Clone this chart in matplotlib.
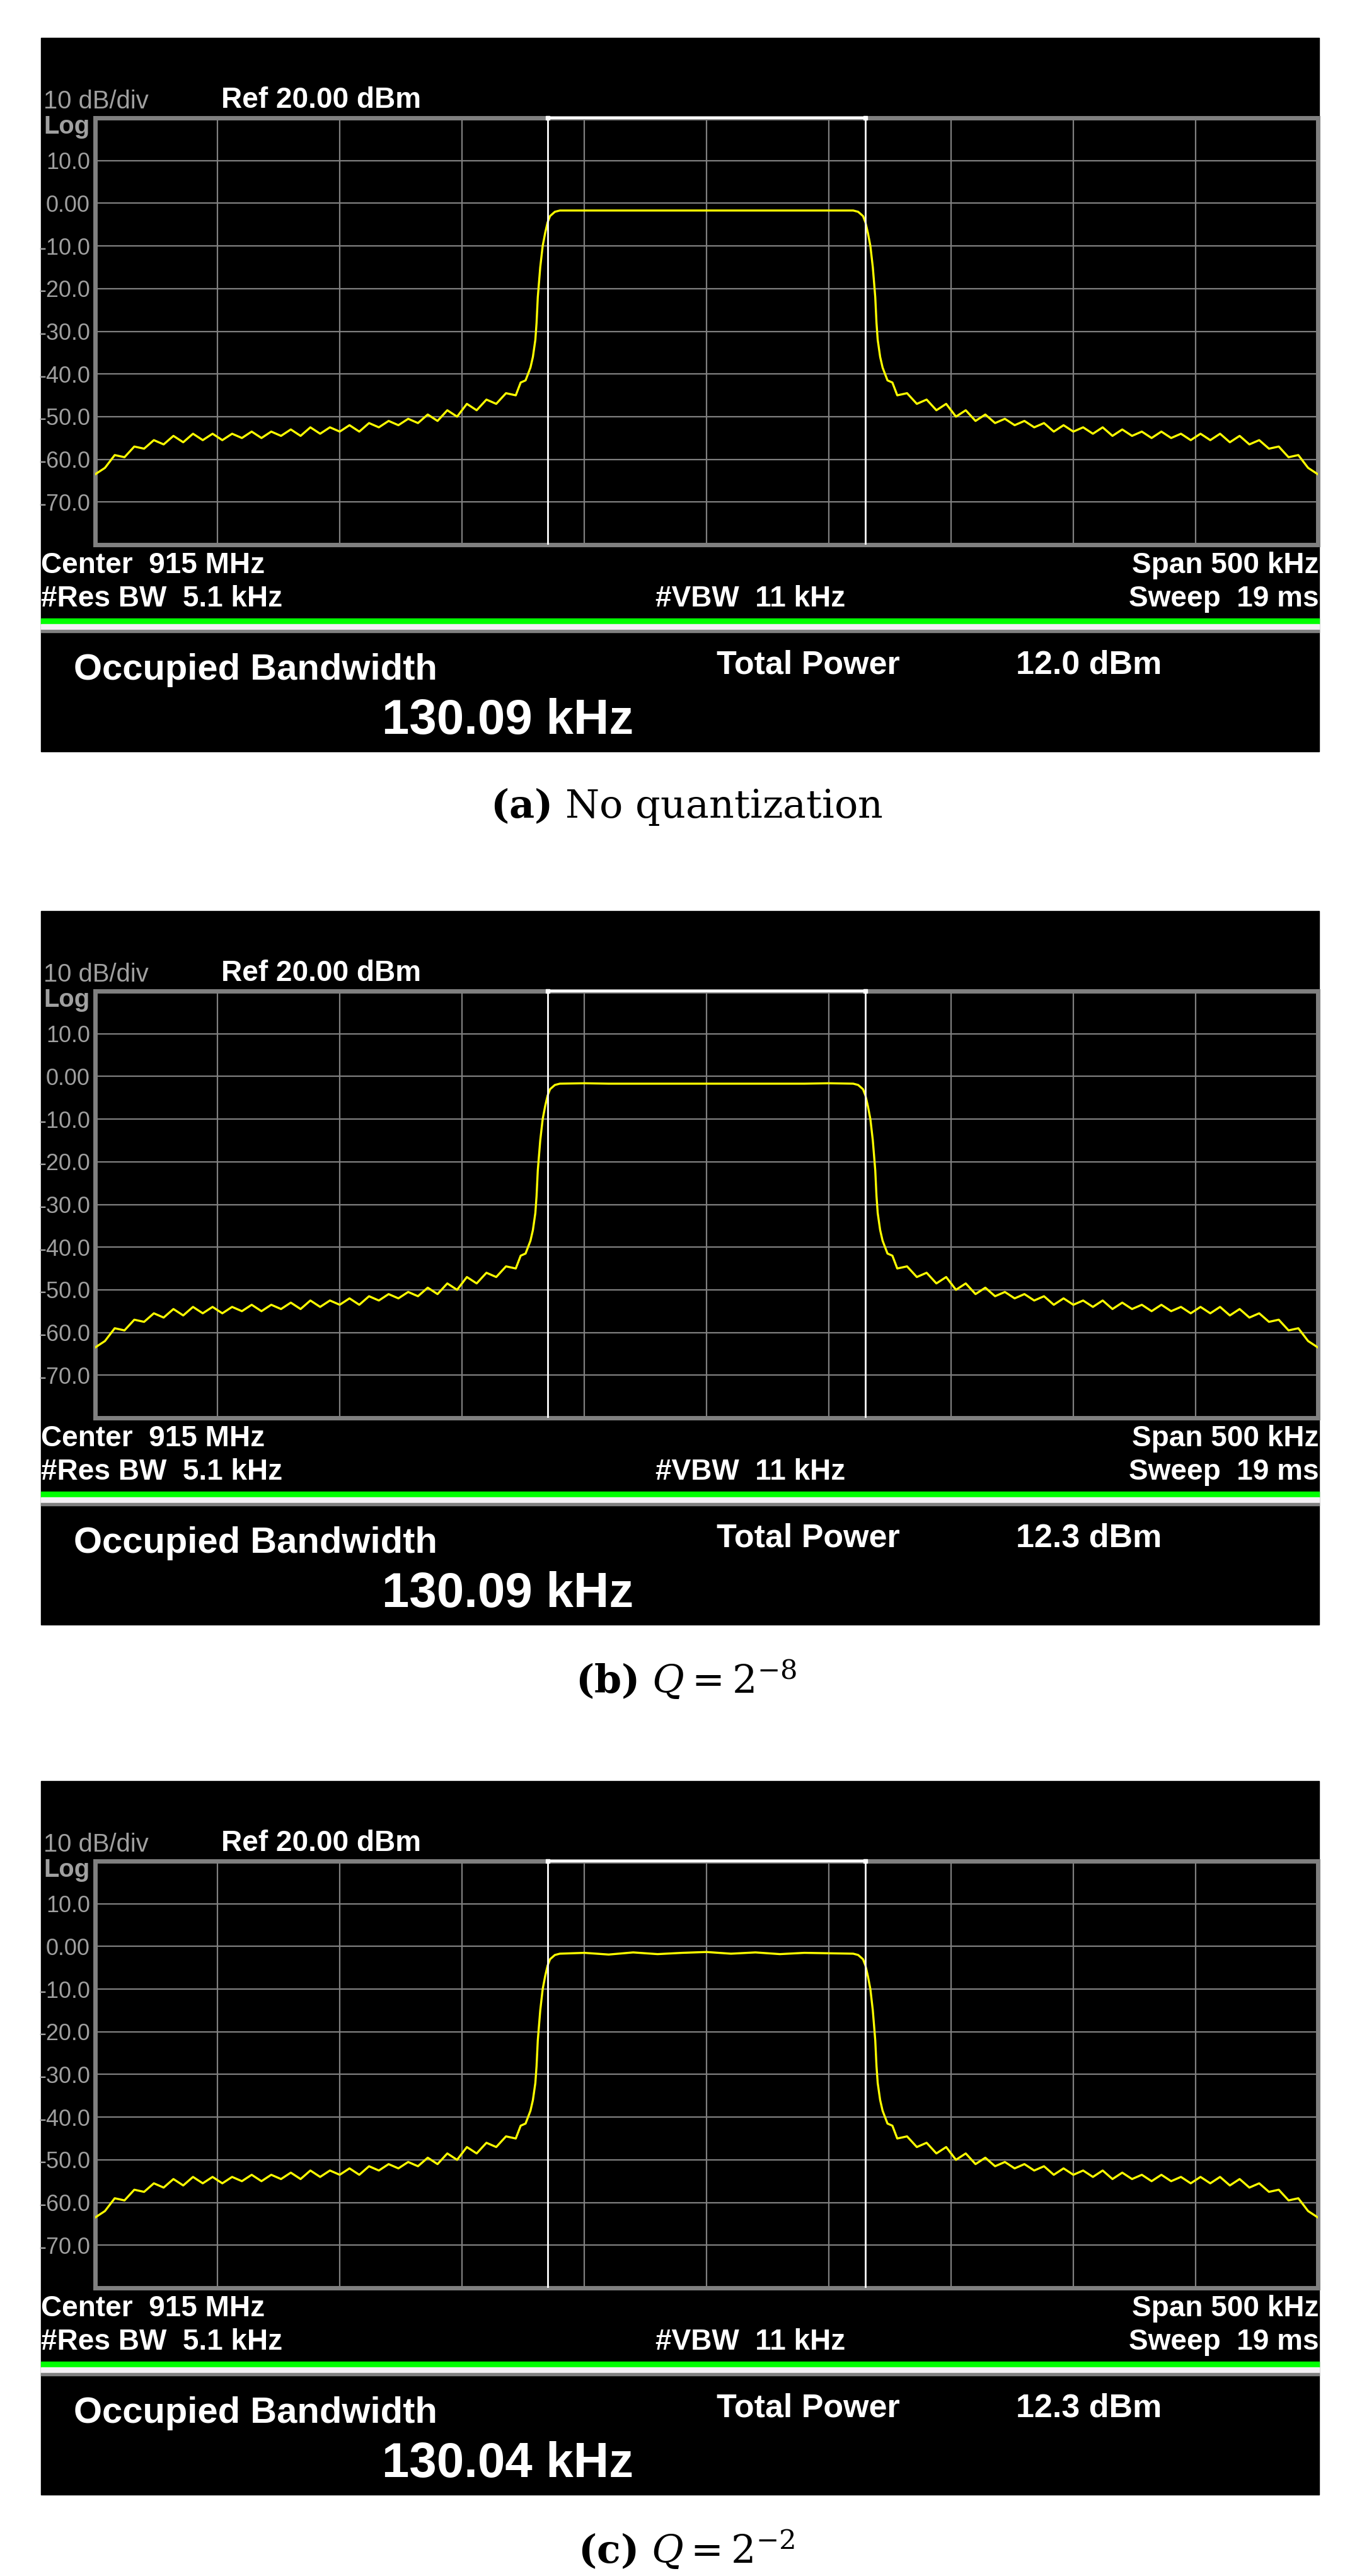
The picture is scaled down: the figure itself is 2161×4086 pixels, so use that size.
import numpy as np
import matplotlib
matplotlib.use("Agg")
import matplotlib.pyplot as plt
from matplotlib.patches import Rectangle

W, H = 2161, 4086
DPI = 100

# ---- data ----
shoulder_f = [-250, -246, -242, -238, -234, -230, -226, -222, -218, -214, -210, -206, -202, -198,
              -194, -190, -186, -182, -178, -174, -170, -166, -162, -158, -154, -150, -146, -142,
              -138, -134, -130, -126, -122, -118, -114, -110, -106, -102, -98, -94, -90, -86,
              -82, -78, -76, -74]
shoulder_db = [-63.5, -62, -59, -59.5, -57, -57.5, -55.5, -56.5, -54.5, -56, -54, -55.5, -54, -55.5,
               -54, -55, -53.5, -55, -53.5, -54.5, -53, -54.5, -52.5, -54, -52.5, -53.5, -52, -53.5,
               -51.5, -52.5, -51, -52, -50.5, -51.5, -49.5, -51, -48.5, -50, -47, -48.5, -46, -47,
               -44.5, -45, -42, -41.5]
edge_f = [-72, -71, -70, -69.5, -69, -68, -67, -66, -65, -64, -62, -60]
edge_db = [-38.5, -36, -32, -28, -22, -15, -10, -7, -4.5, -3, -2, -1.7]
top_f = [-50, -40, -30, -20, -10, 0, 10, 20, 30, 40, 50]
top_db_a = [-1.7, -1.7, -1.7, -1.7, -1.7, -1.7, -1.7, -1.7, -1.7, -1.7, -1.7]
top_db_b = [-1.6, -1.7, -1.7, -1.7, -1.7, -1.7, -1.7, -1.7, -1.7, -1.7, -1.6]
top_db_c = [-1.5, -1.9, -1.4, -1.8, -1.5, -1.3, -1.7, -1.4, -1.8, -1.5, -1.6]

total_power = ["12.0 dBm", "12.3 dBm", "12.3 dBm"]
obw = ["130.09 kHz", "130.09 kHz", "130.04 kHz"]
obw_khz = [130.09, 130.09, 130.04]
captions = [r"$\mathbf{(a)}$ No quantization", r"$\mathbf{(b)}$ $Q = 2^{-8}$", r"$\mathbf{(c)}$ $Q = 2^{-2}$"]
ytick_vals = [10, 0, -10, -20, -30, -40, -50, -60, -70]
ytick_labels = ["10.0", "0.00", "-10.0", "-20.0", "-30.0", "-40.0", "-50.0", "-60.0", "-70.0"]
tops = [top_db_a, top_db_b, top_db_c]
offsets = [0, 1385, 2765]

plt.rcParams['font.family'] = ['Liberation Sans', 'DejaVu Sans']
plt.rcParams['mathtext.fontset'] = 'dejavuserif'
fig = plt.figure(figsize=(W / DPI, H / DPI), dpi=DPI, facecolor="white")

def fx(x): return x / W
def fy(y): return 1 - y / H
def pt(px): return px * 72 / DPI

def txt(x, y, s, size, color="white", weight="bold", ha="left", va="center", family=None):
    kw = {}
    if family: kw["family"] = family
    fig.text(fx(x), fy(y), s, fontsize=pt(size), color=color, weight=weight, ha=ha, va=va,
             zorder=5, **kw)

def rect(x0, y0, x1, y1, color):
    fig.patches.append(Rectangle((fx(x0), fy(y1)), fx(x1) - fx(x0), fy(y0) - fy(y1),
                                 transform=fig.transFigure, color=color, zorder=-2))

for i in range(3):
    o = offsets[i]
    rect(65, o + 60, 2093, o + 1192, "black")
    rect(65, o + 981, 2093, o + 989, "#00ff00")
    rect(65, o + 990, 2093, o + 998, "#f4f0f4")
    rect(65, o + 999, 2093, o + 1003, "#808080")

    ax = fig.add_axes([fx(151), fy(o + 864), fx(2091) - fx(151), fy(o + 187) - fy(o + 864)])
    ax.set_zorder(2)
    ax.set_facecolor("black")
    ax.set_xlim(-250, 250)
    ax.set_ylim(-80, 20)
    ax.set_xticks(np.linspace(-250, 250, 11))
    ax.set_xticklabels([])
    ax.set_yticks(ytick_vals)
    ax.set_yticklabels(ytick_labels, color="#a0a0a0", fontsize=pt(36))
    ax.tick_params(length=0, pad=pt(8))
    ax.grid(True, color="#808080", lw=1.6)
    for s in ax.spines.values():
        s.set_color("#808080"); s.set_linewidth(5)

    f = shoulder_f + edge_f + top_f + [-v for v in edge_f[::-1]] + [-v for v in shoulder_f[::-1]]
    d = shoulder_db + edge_db + tops[i] + edge_db[::-1] + shoulder_db[::-1]
    ax.plot(f, d, color="#ffff00", lw=2.4, zorder=3)

    h = obw_khz[i] / 2
    ax.axvline(-h, color="white", lw=2, zorder=4)
    ax.axvline(h, color="white", lw=2, zorder=4)
    ax.plot([-h, h], [20, 20], color="white", lw=3, zorder=5, clip_on=False)
    ax.plot([-h, h], [20, 20], "s", color="white", ms=4, zorder=6, clip_on=False)

    txt(69, o + 161, "10 dB/div", 40, color="#a0a0a0", weight="normal")
    txt(351, o + 159, "Ref 20.00 dBm", 46)
    txt(69, o + 201, "Log", 40, color="#a0a0a0", weight="bold")
    txt(65, o + 897, "Center  915 MHz", 46)
    txt(2093, o + 897, "Span 500 kHz", 46, ha="right")
    txt(65, o + 950, "#Res BW  5.1 kHz", 46)
    txt(1040, o + 950, "#VBW  11 kHz", 46)
    txt(2093, o + 950, "Sweep  19 ms", 46, ha="right")
    txt(117, o + 1063, "Occupied Bandwidth", 58)
    txt(1137, o + 1055, "Total Power", 52)
    txt(1612, o + 1055, total_power[i], 52)
    txt(606, o + 1143, obw[i], 78)
    txt(1089, o + 1280, captions[i], 62, color="black", weight="normal", ha="center",
        family="DejaVu Serif")

fig.savefig("out.png", dpi=DPI, facecolor="white")
